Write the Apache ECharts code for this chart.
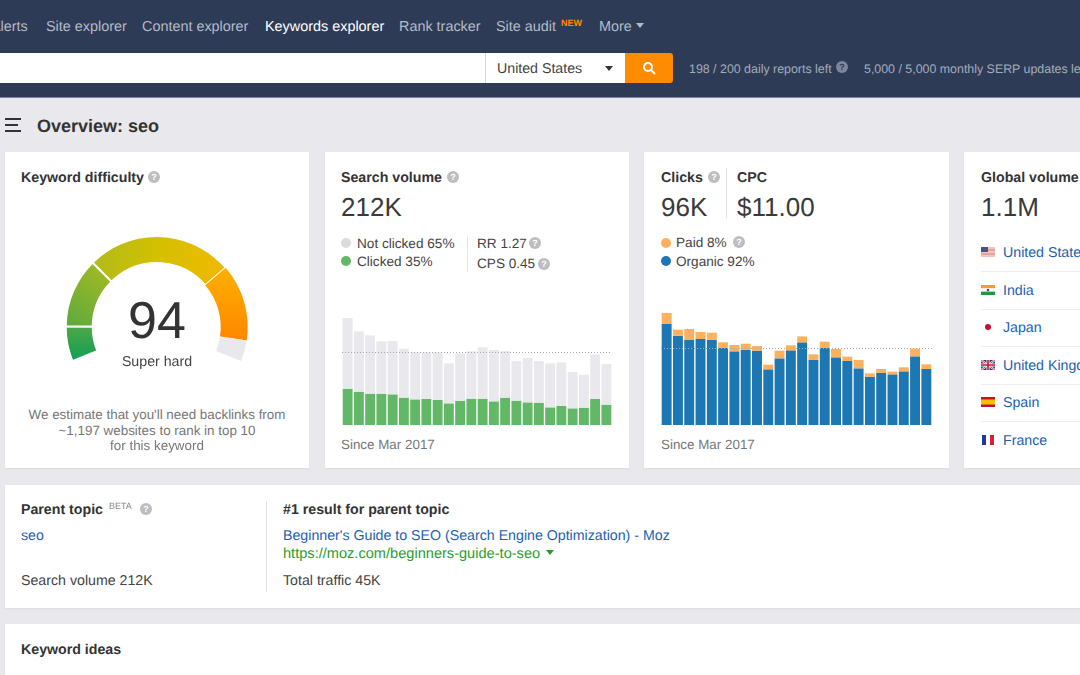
<!DOCTYPE html>
<html>
<head>
<meta charset="utf-8">
<script src="https://cdn.jsdelivr.net/npm/echarts@6/dist/echarts.min.js"></script>
<style>
  html, body { margin: 0; padding: 0; }
  body { width: 1080px; height: 675px; overflow: hidden; position: relative; background: #e9e9ed; font-family: "Liberation Sans", Arial, sans-serif; color: #333; text-rendering: geometricPrecision; }
  .box { position: absolute; }
  .card { position: absolute; background: #fff; box-shadow: 0 1px 2px rgba(0,0,0,.06); }
  .t { position: absolute; white-space: nowrap; transform: translateY(-50%); font-size: 14.2px; line-height: 1; margin-top: 1px; }
  .c { transform: translate(-50%, -50%); }
  .b { font-weight: bold; }
  .big { font-size: 26px; color: #3a3a3a; margin-top: 0; }
  .nav { color: #b4bac6; font-size: 14.4px; }
  .grey { color: #777; font-size: 13.4px; }
  .sm { color: #444; font-size: 13.6px; }
  .link { color: #1c62b0; }
  .q { position: absolute; width: 12px; height: 12px; border-radius: 50%; background: #bdbdc2; color: #fff; font-size: 9px; font-weight: bold; line-height: 12px; text-align: center; transform: translate(-50%, -50%); }
  .dot { position: absolute; width: 10px; height: 10px; border-radius: 50%; transform: translate(-50%, -50%); }
  .tri { position: absolute; width: 0; height: 0; border-left: 4.5px solid transparent; border-right: 4.5px solid transparent; border-top: 5px solid #333; }
  .flag { position: absolute; left: 981px; width: 14px; height: 10px; transform: translateY(-50%); }
  .flag svg { display: block; }
</style>
</head>
<body>
<!-- top bar -->
<div class="box" style="left:0;top:0;width:1080px;height:97px;background:#2e3b57;border-bottom:1px solid #7d869b"></div>
<div class="t nav" style="left:-9px;top:26px">Alerts</div>
<div class="t nav" style="left:46px;top:26px">Site explorer</div>
<div class="t nav" style="left:142px;top:26px">Content explorer</div>
<div class="t nav" style="left:265px;top:26px;color:#fff">Keywords explorer</div>
<div class="t nav" style="left:399px;top:26px">Rank tracker</div>
<div class="t nav" style="left:496px;top:26px">Site audit</div>
<div class="t b" style="left:561px;top:22px;font-size:9px;color:#ff8c00">NEW</div>
<div class="t nav" style="left:599px;top:26px">More</div>
<div class="tri" style="left:636px;top:23px;border-top-color:#b4bac6"></div>

<div class="box" style="left:0;top:53px;width:625px;height:30px;background:#fff"></div>
<div class="box" style="left:485px;top:53px;width:1px;height:30px;background:#d5d8dd"></div>
<div class="t" style="left:497px;top:68px;color:#444">United States</div>
<div class="tri" style="left:605px;top:66px"></div>
<div class="box" style="left:625px;top:53px;width:48px;height:30px;background:#ff8c00;border-radius:0 3px 3px 0"></div>
<svg class="box" style="left:642px;top:61px" width="14" height="14" viewBox="0 0 14 14"><circle cx="6" cy="6" r="4" fill="none" stroke="#fff" stroke-width="2"/><path d="M9 9l4 4" stroke="#fff" stroke-width="2"/></svg>
<div class="t" style="left:689px;top:68px;font-size:12.4px;color:#a4abb9">198 / 200 daily reports left</div>
<div class="q" style="left:842px;top:67px;background:#7d869b;color:#2e3b57">?</div>
<div class="t" style="left:864px;top:68px;font-size:12.4px;color:#a4abb9">5,000 / 5,000 monthly SERP updates left</div>

<!-- page title -->
<div class="box" style="left:5px;top:118px;width:16px;height:2px;background:#333"></div>
<div class="box" style="left:5px;top:124px;width:13px;height:2px;background:#333"></div>
<div class="box" style="left:5px;top:130px;width:16px;height:2px;background:#333"></div>
<div class="t b" style="left:37px;top:125px;font-size:18px">Overview: seo</div>

<!-- cards -->
<div class="card" style="left:5px;top:152px;width:304px;height:316px"></div>
<div class="card" style="left:325px;top:152px;width:304px;height:316px"></div>
<div class="card" style="left:644px;top:152px;width:305px;height:316px"></div>
<div class="card" style="left:964px;top:152px;width:130px;height:316px"></div>
<div class="card" style="left:5px;top:485px;width:1090px;height:123px"></div>
<div class="card" style="left:5px;top:624px;width:1090px;height:60px"></div>

<!-- keyword difficulty -->
<div class="t b" style="left:21px;top:177px">Keyword difficulty</div>
<div class="q" style="left:154px;top:177px">?</div>
<div id="gauge" class="box" style="left:5px;top:200px;width:304px;height:190px"></div>
<div class="t c" style="left:157px;top:320px;font-size:52px">94</div>
<div class="t c" style="left:157px;top:361px;color:#444">Super hard</div>
<div class="t c grey" style="left:157px;top:414px">We estimate that you'll need backlinks from</div>
<div class="t c grey" style="left:157px;top:430px">~1,197 websites to rank in top 10</div>
<div class="t c grey" style="left:157px;top:445px">for this keyword</div>

<!-- search volume -->
<div class="t b" style="left:341px;top:177px">Search volume</div>
<div class="q" style="left:453px;top:177px">?</div>
<div class="t big" style="left:341px;top:207px">212K</div>
<div class="dot" style="left:346px;top:243px;background:#dcdcdc"></div>
<div class="t sm" style="left:357px;top:243px">Not clicked 65%</div>
<div class="dot" style="left:346px;top:261px;background:#62b866"></div>
<div class="t sm" style="left:357px;top:261px">Clicked 35%</div>
<div class="box" style="left:467px;top:237px;width:1px;height:35px;background:#e3e3e6"></div>
<div class="t sm" style="left:477px;top:243px">RR 1.27</div>
<div class="q" style="left:535px;top:243px">?</div>
<div class="t sm" style="left:477px;top:263px">CPS 0.45</div>
<div class="q" style="left:544px;top:264px">?</div>
<div id="volumeChart" class="box" style="left:342px;top:300px;width:270px;height:125px"></div>
<div class="t grey" style="left:341px;top:444px">Since Mar 2017</div>

<!-- clicks -->
<div class="t b" style="left:661px;top:177px">Clicks</div>
<div class="q" style="left:714px;top:177px">?</div>
<div class="box" style="left:726px;top:168px;width:1px;height:50px;background:#e3e3e6"></div>
<div class="t b" style="left:737px;top:177px">CPC</div>
<div class="t big" style="left:661px;top:207px">96K</div>
<div class="t big" style="left:737px;top:207px">$11.00</div>
<div class="dot" style="left:666px;top:243px;background:#ffb05c"></div>
<div class="t sm" style="left:676px;top:242px">Paid 8%</div>
<div class="q" style="left:739px;top:242px">?</div>
<div class="dot" style="left:666px;top:261px;background:#1c77b3"></div>
<div class="t sm" style="left:676px;top:261px">Organic 92%</div>
<div id="clicksChart" class="box" style="left:661px;top:300px;width:271px;height:125px"></div>
<div class="t grey" style="left:661px;top:444px">Since Mar 2017</div>

<!-- global volume -->
<div class="t b" style="left:981px;top:177px">Global volume</div>
<div class="t big" style="left:981px;top:207px">1.1M</div>
<div id="countries"></div>

<!-- parent topic -->
<div class="t b" style="left:21px;top:509px">Parent topic</div>
<div class="t" style="left:109px;top:505px;font-size:9px;color:#888">BETA</div>
<div class="q" style="left:146px;top:509px">?</div>
<div class="t link" style="left:21px;top:535px">seo</div>
<div class="t" style="left:21px;top:580px;color:#444">Search volume 212K</div>
<div class="box" style="left:266px;top:501px;width:1px;height:91px;background:#e3e3e6"></div>
<div class="t b" style="left:283px;top:509px">#1 result for parent topic</div>
<div class="t link" style="left:283px;top:535px">Beginner's Guide to SEO (Search Engine Optimization) - Moz</div>
<div class="t" style="left:283px;top:553px;color:#2a9d2f;font-size:14.6px">https://moz.com/beginners-guide-to-seo</div>
<div class="tri" style="left:546px;top:550px;border-top-color:#2a9d2f"></div>
<div class="t" style="left:283px;top:580px;color:#444">Total traffic 45K</div>

<div class="t b" style="left:21px;top:649px">Keyword ideas</div>

<script>
// volume in K
const months = ['M1','M2','M3','M4','M5','M6','M7','M8','M9','M10','M11','M12','M13','M14','M15','M16','M17','M18','M19','M20','M21','M22','M23','M24']
const clicked = [109,100,94,94,92,82,77,78,75,65,72,79,79,71,82,73,68,67,53,57,50,52,78,61]
const notClicked = [212,181,175,157,160,147,141,140,143,120,143,142,154,154,140,119,133,125,132,131,109,99,133,122]
const volumeAvg = 218

const organic = [303,268,255,258,256,231,221,226,223,167,200,224,248,195,231,203,192,170,145,156,152,161,206,168]
const paid = [33,18,33,21,21,17,19,18,14,14,23,15,18,17,19,25,13,25,10,12,8,12,23,14]
const clicksAvg = 229

const difficultyBands = [10, 20, 42, 22, 6]
const bandColors = [
  { x: 0, y: 1, x2: 0, y2: 0, stops: ['#0f9d58', '#4fa845'] },
  { x: 0, y: 1, x2: 1, y2: 0, stops: ['#58aa40', '#aebb1e'] },
  { x: 0, y: 0, x2: 1, y2: 0, stops: ['#b0bb1c', '#d4c000', '#f2b800'] },
  { x: 0, y: 0, x2: 0, y2: 1, stops: ['#feb000', '#ff8600'] },
  null
]

const countries = ['United States', 'India', 'Japan', 'United Kingdom', 'Spain', 'France']
const countryRows = [252, 290, 327, 365, 402, 440]
const flags = [
  '<svg width="14" height="10"><rect width="14" height="10" fill="#f0c4c4"/><rect y="2" width="14" height="2" fill="#e6a0a0"/><rect y="6" width="14" height="2" fill="#e6a0a0"/><rect width="7" height="5" fill="#46557f"/></svg>',
  '<svg width="14" height="10"><rect width="14" height="3.4" fill="#ff9a33"/><rect y="3.4" width="14" height="3.2" fill="#fff"/><rect y="6.6" width="14" height="3.4" fill="#1e9a3a"/><circle cx="7" cy="5" r="1.3" fill="#34508c"/></svg>',
  '<svg width="14" height="10"><circle cx="7" cy="5" r="3" fill="#c8102e"/></svg>',
  '<svg width="14" height="10"><rect width="14" height="10" fill="#2b3a80"/><path d="M0 0L14 10M14 0L0 10" stroke="#fff" stroke-width="2"/><path d="M0 0L14 10M14 0L0 10" stroke="#c8102e" stroke-width=".8"/><path d="M7 0V10M0 5H14" stroke="#fff" stroke-width="3"/><path d="M7 0V10M0 5H14" stroke="#c8102e" stroke-width="1.6"/></svg>',
  '<svg width="14" height="10"><rect width="14" height="10" fill="#c8102e"/><rect y="2.5" width="14" height="5" fill="#f5c400"/></svg>',
  '<svg width="14" height="10"><rect x="1" width="4" height="10" fill="#1f3a93"/><rect x="9" width="4" height="10" fill="#d8213b"/></svg>'
]

const rows = document.getElementById('countries')
countries.forEach((name, i) => {
  const y = countryRows[i]
  rows.innerHTML += `<div class="flag" style="top:${y}px">${flags[i]}</div>`
  rows.innerHTML += `<div class="t link" style="left:1003px;top:${y}px">${name}</div>`
  if (i < countries.length - 1) {
    rows.innerHTML += `<div class="box" style="left:981px;top:${y + 18.5}px;width:99px;height:1px;background:#eeeef0"></div>`
  }
})

const gradient = (c) => ({
  type: 'linear', x: c.x, y: c.y, x2: c.x2, y2: c.y2,
  colorStops: c.stops.map((color, i) => ({ offset: i / (c.stops.length - 1), color }))
})

const gauge = echarts.init(document.getElementById('gauge'))
gauge.setOption({
  animation: false,
  series: [{
    type: 'pie',
    center: [151.7, 127],
    radius: [64, 91],
    startAngle: 202,
    endAngle: -22,
    silent: true,
    label: { show: false },
    labelLine: { show: false },
    data: difficultyBands.map((v, i) => ({
      value: v,
      itemStyle: bandColors[i]
        ? { color: gradient(bandColors[i]), borderColor: '#fff', borderWidth: i < 3 ? 2 : 0 }
        : { color: '#e9e9ed' }
    }))
  }]
})

const barChart = (id, bottom, top, bottomColor, topColor, avg) => {
  const chart = echarts.init(document.getElementById(id))
  chart.setOption({
    animation: false,
    grid: { left: 0, right: 0, top: 5, bottom: 0 },
    xAxis: { type: 'category', data: months, show: false },
    yAxis: { type: 'value', min: 0, max: 360, show: false },
    series: [
      { type: 'bar', stack: 'total', data: bottom, barCategoryGap: '12%', itemStyle: { color: bottomColor }, silent: true },
      {
        type: 'bar', stack: 'total', data: top, itemStyle: { color: topColor }, silent: true,
        markLine: {
          silent: true,
          symbol: 'none',
          label: { show: false },
          lineStyle: { color: '#aaa', type: [1, 2], width: 1 },
          data: [{ yAxis: avg }]
        }
      }
    ]
  })
}

barChart('volumeChart', clicked, notClicked, '#62b866', '#e9e9ed', volumeAvg)
barChart('clicksChart', organic, paid, '#1c77b3', '#ffb05c', clicksAvg)
</script>
</body>
</html>
